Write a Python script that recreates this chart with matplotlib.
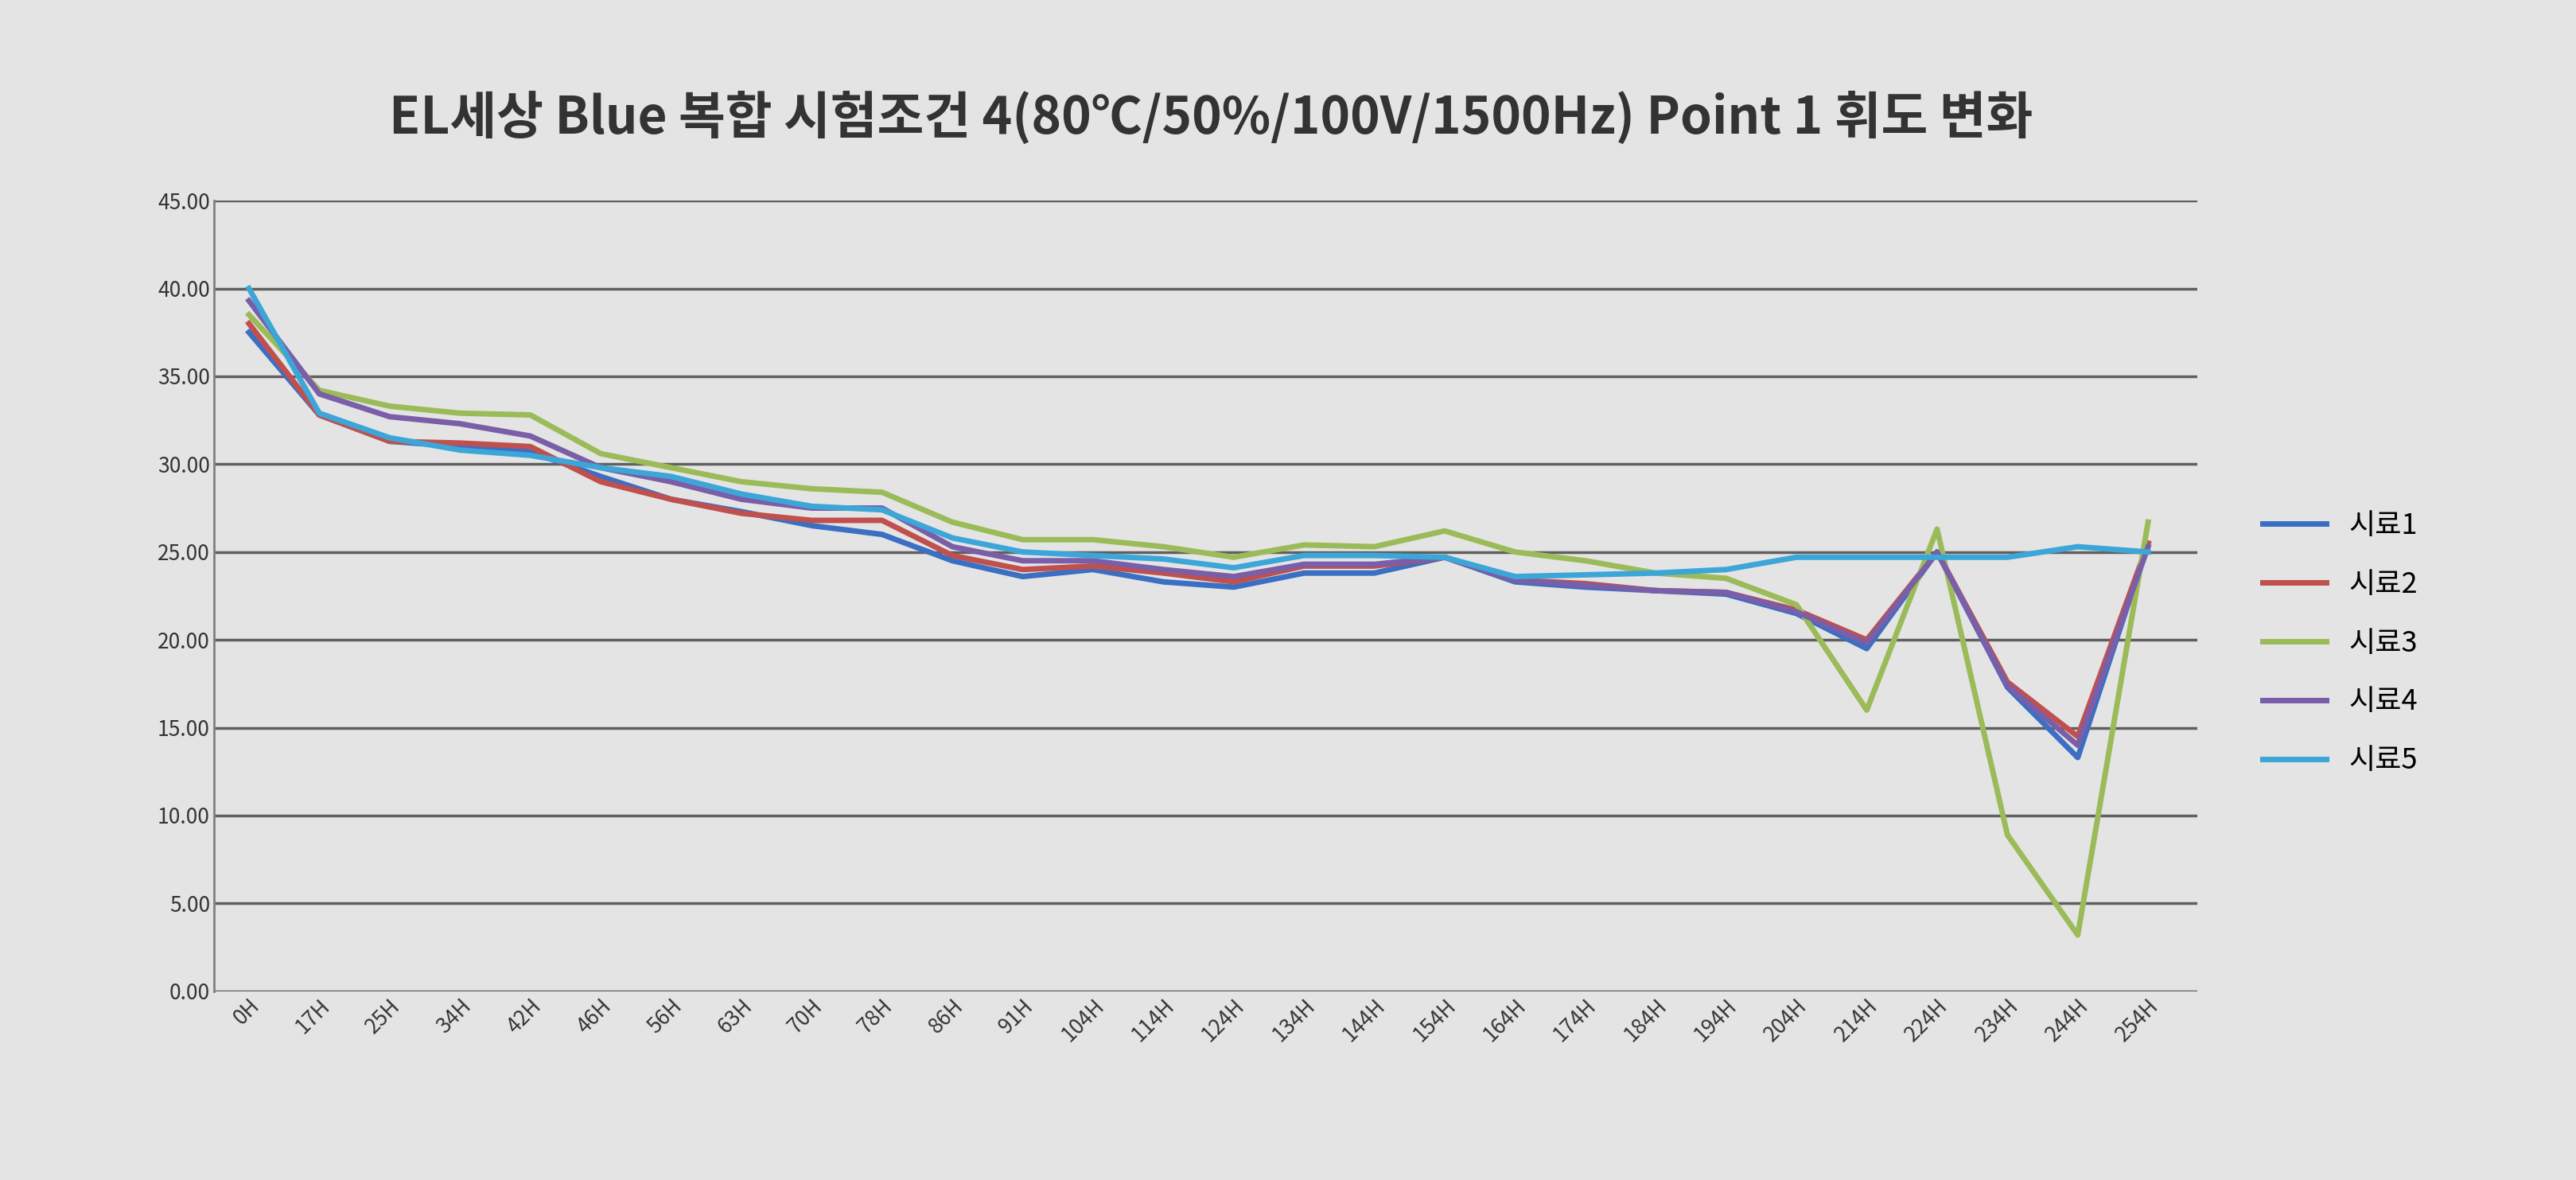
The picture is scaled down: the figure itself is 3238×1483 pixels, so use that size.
import matplotlib
matplotlib.use("Agg")
import matplotlib.pyplot as plt
from matplotlib.ticker import MultipleLocator, FormatStrFormatter

plt.rcParams['font.family'] = ['Noto Sans CJK KR', 'DejaVu Sans']

categories = ["0H","17H","25H","34H","42H","46H","56H","63H","70H","78H","86H","91H","104H","114H",
              "124H","134H","144H","154H","164H","174H","184H","194H","204H","214H","224H","234H","244H","254H"]
s1 = [37.5,32.8,31.3,31.0,30.7,29.3,28.0,27.3,26.5,26.0,24.5,23.6,24.0,23.3,23.0,23.8,23.8,24.7,23.3,23.0,22.8,22.6,21.5,19.5,25.0,17.3,13.3,25.5]
s2 = [38.0,32.8,31.3,31.2,31.0,29.0,28.0,27.2,26.8,26.8,24.8,24.0,24.2,23.8,23.3,24.2,24.2,24.7,23.4,23.2,22.8,22.7,21.7,20.0,25.0,17.6,14.5,25.5]
s3 = [38.5,34.2,33.3,32.9,32.8,30.6,29.8,29.0,28.6,28.4,26.7,25.7,25.7,25.3,24.7,25.4,25.3,26.2,25.0,24.5,23.8,23.5,22.0,16.0,26.3,8.9,3.2,26.7]
s4 = [39.3,34.0,32.7,32.3,31.6,29.8,29.0,28.0,27.5,27.5,25.3,24.5,24.5,24.0,23.6,24.3,24.3,24.7,23.4,23.1,22.8,22.7,21.6,19.8,25.0,17.4,14.0,25.3]
s5 = [40.0,32.9,31.5,30.8,30.5,29.8,29.3,28.3,27.6,27.4,25.8,25.0,24.8,24.6,24.1,24.8,24.8,24.7,23.6,23.7,23.8,24.0,24.7,24.7,24.7,24.7,25.3,25.0]
names = ["시료1","시료2","시료3","시료4","시료5"]
series = [s1, s2, s3, s4, s5]
colors = ["#3a6fc4", "#c0504d", "#9bbb59", "#7a5ea8", "#3ca6d8"]

fig = plt.figure(figsize=(32.38, 14.83), dpi=100)
fig.patch.set_facecolor("#e4e4e4")
ax = fig.add_axes([0.083, 0.16, 0.77, 0.67])
ax.set_facecolor("#e4e4e4")
x = list(range(len(categories)))
for name, s, c in zip(names, series, colors):
    ax.plot(x, s, color=c, lw=5, label=name)
ax.set_ylim(0, 45)
ax.set_xlim(-0.5, len(categories) - 0.3)
ax.yaxis.set_major_locator(MultipleLocator(5))
ax.yaxis.set_major_formatter(FormatStrFormatter('%.2f'))
ax.grid(axis='y', color='#606060', lw=2.5)
ax.set_axisbelow(True)
ax.set_xticks(x)
ax.set_xticklabels(categories, rotation=45, ha='right', rotation_mode='anchor', fontsize=19, color='#333333')
ax.tick_params(axis='y', labelsize=19, colors='#333333', length=0)
ax.tick_params(axis='x', length=0)
for sp in ['top', 'right', 'bottom']:
    ax.spines[sp].set_visible(False)
ax.spines['left'].set_color('#808080')
ax.spines['left'].set_linewidth(2)
fig.text(0.47, 0.90, "EL세상 Blue 복합 시험조건 4(80℃/50%/100V/1500Hz) Point 1 휘도 변화",
         ha='center', va='center', fontsize=46, fontweight='bold', color='#333333')
leg = ax.legend(loc='center left', bbox_to_anchor=(1.02, 0.44), frameon=False, fontsize=26,
                handlelength=2.2, labelspacing=1.05)
fig.savefig("out.png", dpi=100, facecolor=fig.get_facecolor())
